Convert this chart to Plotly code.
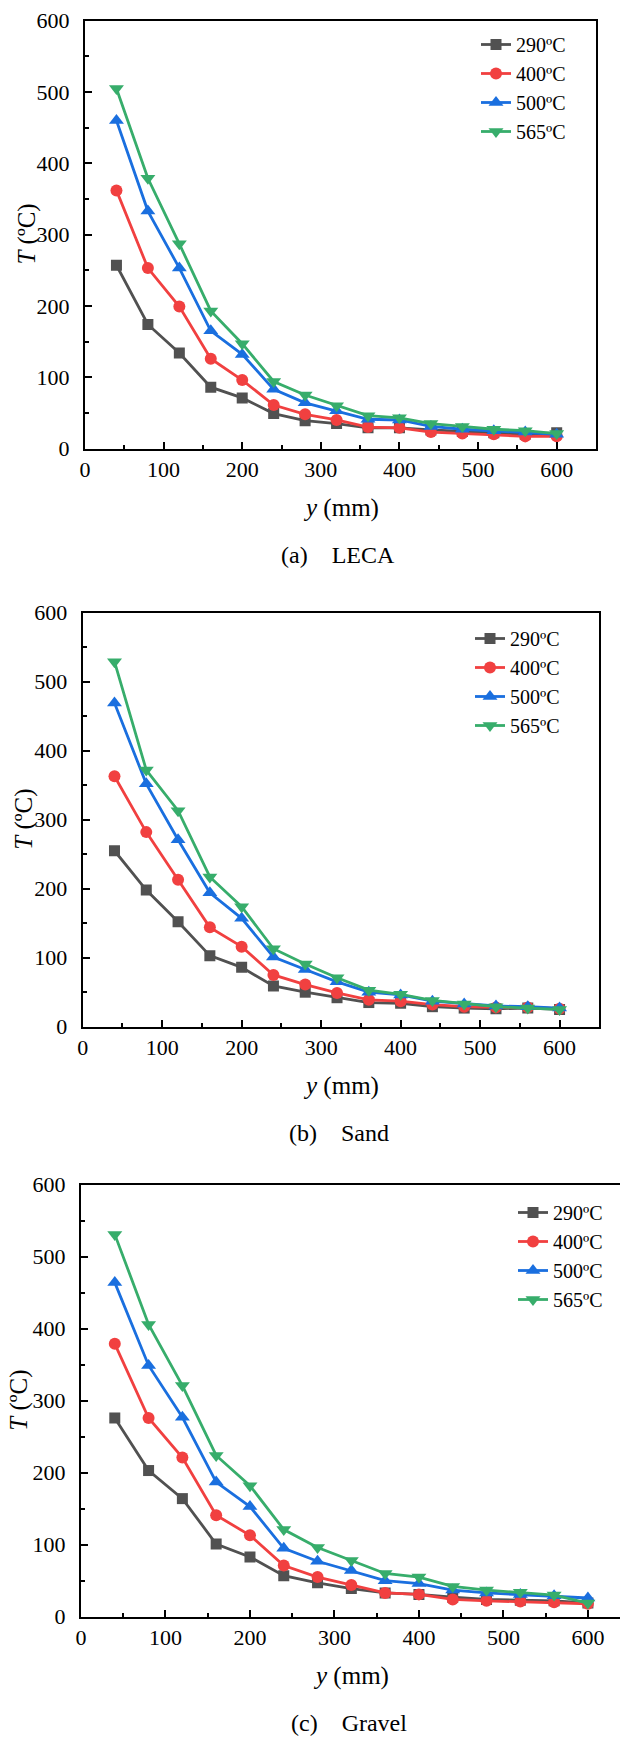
import plotly.graph_objects as go

W, H = 620, 1737

# ---------------- data ----------------
y_mm = [40, 80, 120, 160, 200, 240, 280, 320, 360, 400, 440, 480, 520, 560, 600]
series_names = ["290ºC", "400ºC", "500ºC", "565ºC"]

leca_290 = [257, 174, 134, 86, 71, 49, 39, 35, 29, 29, 26, 24, 22, 20, 22]
leca_400 = [362, 253, 199, 126, 96, 61, 48, 40, 30, 29, 23, 21, 20, 17, 17]
leca_500 = [460, 333, 253, 165, 132, 83, 64, 53, 41, 40, 31, 27, 25, 23, 20]
leca_565 = [505, 379, 287, 193, 147, 94, 75, 60, 46, 43, 35, 31, 27, 25, 21]

sand_290 = [255, 198, 152, 103, 86, 59, 50, 42, 35, 34, 29, 27, 26, 27, 25]
sand_400 = [363, 282, 213, 144, 116, 75, 61, 49, 39, 37, 32, 29, 28, 28, 26]
sand_500 = [469, 352, 271, 194, 157, 101, 83, 65, 50, 46, 37, 33, 30, 29, 27]
sand_565 = [529, 372, 313, 217, 174, 113, 91, 71, 53, 47, 38, 33, 29, 27, 25]

gravel_290 = [276, 203, 164, 101, 83, 57, 47, 39, 33, 31, 27, 24, 23, 22, 19]
gravel_400 = [379, 276, 221, 141, 113, 71, 55, 44, 33, 31, 24, 22, 21, 20, 18]
gravel_500 = [464, 349, 277, 187, 153, 95, 77, 64, 50, 46, 37, 33, 31, 29, 26]
gravel_565 = [531, 406, 321, 224, 182, 121, 96, 78, 60, 55, 42, 37, 34, 30, 19]

panels = [
    ("(a)", "LECA", [leca_290, leca_400, leca_500, leca_565]),
    ("(b)", "Sand", [sand_290, sand_400, sand_500, sand_565]),
    ("(c)", "Gravel", [gravel_290, gravel_400, gravel_500, gravel_565]),
]

x_tick_vals = [0, 100, 200, 300, 400, 500, 600]
y_tick_vals = [0, 100, 200, 300, 400, 500, 600]

# ---------------- style ----------------
colors = ["#515151", "#F14040", "#1A6FDF", "#37AD6B"]
symbols = ["square", "circle", "triangle-up", "triangle-down"]
msizes = [11, 12, 13, 13]
FONT = "Liberation Serif"

# pixel geometry of each panel: (left, right, top, bottom), x max of range
geom = [
    (85, 596, 20.7, 448.5, 650),
    (82.7, 599.3, 612.7, 1026.7, 650),
    (81, 620, 1184.7, 1616.7, 638),
]
legend_pos = [(476, 25), (470, 619), (513, 1193)]
ytitle_x = [27, 24, 19]
caption_x = [279, 287, 289]


def px2py(p):
    return 1 - p / H


fig = go.Figure()
annotations = []
layout = dict(
    template="none",
    width=W, height=H,
    margin=dict(l=0, r=0, t=0, b=0, autoexpand=False),
    paper_bgcolor="white", plot_bgcolor="white",
    font=dict(family=FONT, size=22, color="black"),
    showlegend=True,
)

for i, (lab, name, series) in enumerate(panels):
    n = "" if i == 0 else str(i + 1)
    xa, ya = "x" + n, "y" + n
    leg = "legend" + n
    for j, vals in enumerate(series):
        fig.add_trace(go.Scatter(
            x=y_mm, y=vals, mode="lines+markers", name=series_names[j],
            xaxis=xa, yaxis=ya, legend=leg,
            line=dict(color=colors[j], width=2.8),
            marker=dict(symbol=symbols[j], size=msizes[j], color=colors[j]),
        ))
    l, r, t, b, xmax = geom[i]
    layout["xaxis" + n] = dict(
        domain=[l / W, min(r / W, 1.0)], anchor=ya, range=[0, xmax],
        tickmode="array", tickvals=x_tick_vals,
        ticks="inside", ticklen=7, tickwidth=2, tickcolor="black",
        minor=dict(ticks="inside", ticklen=4, tickwidth=2, tickcolor="black",
                   tickmode="array", tickvals=[50, 150, 250, 350, 450, 550]),
        showline=True, linewidth=2, linecolor="black", mirror=True,
        showgrid=False, zeroline=False, automargin=False,
        tickfont=dict(family=FONT, size=22, color="black"),
        ticklabelstandoff=0,
    )
    layout["yaxis" + n] = dict(
        domain=[px2py(b), px2py(t)], anchor=xa, range=[0, 600],
        tickmode="array", tickvals=y_tick_vals,
        ticks="inside", ticklen=7, tickwidth=2, tickcolor="black",
        minor=dict(ticks="inside", ticklen=4, tickwidth=2, tickcolor="black",
                   tickmode="array", tickvals=[50, 150, 250, 350, 450, 550]),
        showline=True, linewidth=2, linecolor="black", mirror=(i < 2),
        showgrid=False, zeroline=False, automargin=False,
        tickfont=dict(family=FONT, size=22, color="black"),
        ticklabelstandoff=9,
    )
    lx, ly = legend_pos[i]
    layout[leg] = dict(
        x=lx / W, y=px2py(ly), xanchor="left", yanchor="top",
        bgcolor="rgba(0,0,0,0)", borderwidth=0,
        font=dict(family=FONT, size=20, color="black"),
        tracegroupgap=0, itemwidth=30,
    )
    # axis titles
    annotations.append(dict(
        text="<i>y</i> (mm)", xref="paper", yref="paper",
        x=(l + min(r, W)) / 2 / W, y=px2py(b + 59.5),
        xanchor="center", yanchor="middle", showarrow=False,
        font=dict(family=FONT, size=25, color="black"),
    ))
    annotations.append(dict(
        text="<i>T</i> (ºC)", xref="paper", yref="paper",
        x=ytitle_x[i] / W, y=px2py((t + b) / 2), textangle=-90,
        xanchor="center", yanchor="middle", showarrow=False,
        font=dict(family=FONT, size=25, color="black"),
    ))
    annotations.append(dict(
        text=lab + "\u00a0\u00a0\u00a0\u00a0" + name, xref="paper", yref="paper",
        x=caption_x[i] / W, y=px2py(b + 106),
        xanchor="left", yanchor="middle", showarrow=False,
        font=dict(family=FONT, size=24, color="black"),
    ))

layout["annotations"] = annotations
fig.update_layout(**layout)
fig.write_html("out.html",
               config={"displayModeBar": False},
               post_script="document.body.style.margin='0px';document.body.style.overflow='hidden';")
